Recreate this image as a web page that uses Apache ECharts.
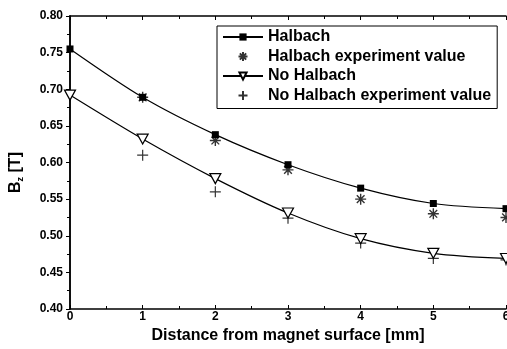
<!DOCTYPE html>
<html>
<head>
<meta charset="utf-8">
<script src="https://cdn.jsdelivr.net/npm/echarts@6/dist/echarts.min.js"></script>
<style>
  html, body { margin: 0; padding: 0; background: #fff; }
  #chart { width: 507px; height: 349px; }
</style>
</head>
<body>
<div id="chart"></div>
<script>
// distance from magnet surface [mm]
const distance = [0, 1, 2, 3, 4, 5, 6];
const distanceExp = [1, 2, 3, 4, 5, 6];

// Bz [T]
const halbach = [0.755, 0.689, 0.638, 0.597, 0.565, 0.544, 0.537];
const halbachExp = [0.689, 0.630, 0.590, 0.550, 0.530, 0.525];
const noHalbach = [0.692, 0.632, 0.578, 0.531, 0.496, 0.476, 0.469];
const noHalbachExp = [0.610, 0.560, 0.524, 0.490, 0.469, 0.467];

const pairs = (xs, ys) => xs.map((x, i) => [x, ys[i]]);

const starPath = 'path://M5,0 L5,10 M0,5 L10,5 M1.5,1.5 L8.5,8.5 M8.5,1.5 L1.5,8.5';
const plusPath = 'path://M5,0 L5,10 M0,5 L10,5';
const triPath = 'path://M0,0 L10,0 L5,9 Z';

const font = 'Arial, "Liberation Sans", sans-serif';

const chart = echarts.init(document.getElementById('chart'));

const option = {
    animation: false,
    backgroundColor: '#fff',
    grid: { left: 70, right: 1, top: 16, bottom: 40, outerBoundsMode: 'none' },
    legend: {
        orient: 'vertical',
        left: 217,
        top: 26,
        width: 283,
        padding: [3, 6, 5, 5],
        itemGap: 3.5,
        itemWidth: 40,
        itemHeight: 9,
        borderColor: '#000',
        borderWidth: 1,
        textStyle: { fontFamily: font, fontSize: 16, fontWeight: 'bold', color: '#000' },
        data: ['Halbach', 'Halbach experiment value', 'No Halbach', 'No Halbach experiment value']
    },
    xAxis: [{
        type: 'value',
        min: 0, max: 6, interval: 1,
        name: 'Distance from magnet surface [mm]',
        nameLocation: 'middle',
        nameGap: 16,
        nameTextStyle: { fontFamily: font, fontSize: 16, fontWeight: 'bold', color: '#000' },
        axisLine: { lineStyle: { color: '#000', width: 1.5 } },
        axisTick: { inside: true, length: 4, lineStyle: { color: '#000' } },
        minorTick: { show: true, splitNumber: 2, length: 3, lineStyle: { color: '#000' } },
        axisLabel: { fontFamily: font, fontSize: 12, fontWeight: 'bold', color: '#000', margin: 2 },
        splitLine: { show: false }
    }, {
        type: 'value',
        position: 'top',
        min: 0, max: 6, interval: 1,
        axisLine: { lineStyle: { color: '#000', width: 1.5 } },
        axisTick: { inside: true, length: 4, lineStyle: { color: '#000' } },
        minorTick: { show: true, splitNumber: 2, length: 3, lineStyle: { color: '#000' } },
        axisLabel: { show: false },
        splitLine: { show: false }
    }],
    yAxis: [{
        type: 'value',
        min: 0.4, max: 0.8, interval: 0.05,
        name: '{b|B}{s|z}{b| [T]}',
        nameLocation: 'middle',
        nameGap: 45,
        nameRotate: 90,
        nameTextStyle: {
            padding: [0, 20, 0, 0],
            rich: {
                b: { fontFamily: font, fontSize: 16, fontWeight: 'bold', color: '#000' },
                s: { fontFamily: font, fontSize: 9, fontWeight: 'bold', color: '#000', verticalAlign: 'bottom', padding: [9, 0, 0, 0] }
            }
        },
        axisLine: { lineStyle: { color: '#000', width: 1.5 } },
        axisTick: { inside: false, length: 4, lineStyle: { color: '#000' } },
        minorTick: { show: true, splitNumber: 2, length: 3, lineStyle: { color: '#000' } },
        axisLabel: {
            fontFamily: font, fontSize: 12, fontWeight: 'bold', color: '#000', margin: 7,
            formatter: v => v.toFixed(2)
        },
        splitLine: { show: false }
    }, {
        type: 'value',
        position: 'right',
        min: 0.4, max: 0.8, interval: 0.05,
        axisLine: { lineStyle: { color: '#000', width: 1.5 } },
        axisTick: { inside: true, length: 4, lineStyle: { color: '#000' } },
        minorTick: { show: true, splitNumber: 2, length: 3, lineStyle: { color: '#000' } },
        axisLabel: { show: false },
        splitLine: { show: false }
    }],
    series: [{
        name: 'Halbach',
        type: 'line',
        smooth: 0.3,
        data: pairs(distance, halbach),
        symbol: 'rect',
        symbolSize: 7,
        lineStyle: { color: '#000', width: 1.2 },
        itemStyle: { color: '#000' }
    }, {
        name: 'Halbach experiment value',
        type: 'scatter',
        data: pairs(distanceExp, halbachExp),
        symbol: starPath,
        symbolSize: 11,
        itemStyle: { color: 'rgba(0,0,0,0)', borderColor: '#000', borderWidth: 1.4 }
    }, {
        name: 'No Halbach',
        type: 'line',
        smooth: 0.3,
        data: pairs(distance, noHalbach),
        symbol: triPath,
        symbolSize: [11, 10],
        lineStyle: { color: '#000', width: 1.2 },
        itemStyle: { color: '#fff', borderColor: '#000', borderWidth: 1.2 }
    }, {
        name: 'No Halbach experiment value',
        type: 'scatter',
        data: pairs(distanceExp, noHalbachExp),
        symbol: plusPath,
        symbolSize: 11,
        itemStyle: { color: 'rgba(0,0,0,0)', borderColor: '#000', borderWidth: 1.2 }
    }]
};

chart.setOption(option);
</script>
</body>
</html>
